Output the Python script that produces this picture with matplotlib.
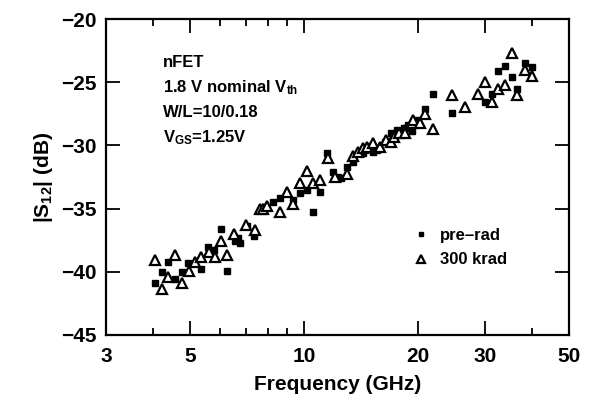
import matplotlib
matplotlib.use("Agg")
import matplotlib.pyplot as plt
from matplotlib.ticker import FixedLocator, FixedFormatter, NullFormatter

plt.rcParams['font.family'] = ['Liberation Sans', 'DejaVu Sans']
plt.rcParams['font.weight'] = 'bold'
plt.rcParams['mathtext.fontset'] = 'custom'
plt.rcParams['mathtext.rm'] = 'Liberation Sans:bold'
plt.rcParams['mathtext.it'] = 'Liberation Sans:bold'
plt.rcParams['mathtext.bf'] = 'Liberation Sans:bold'

# pre-rad (filled squares)
pre_freq = [4.37, 4.21, 4.04, 4.55, 4.75, 4.94, 5.34, 5.57, 5.78, 6.03,
            6.26, 6.56, 6.69, 6.77, 7.07, 7.37, 7.9, 8.28, 8.64, 9.35,
            9.75, 10.17, 10.55, 10.98, 11.5, 11.92, 12.24, 12.5, 12.97, 13.42,
            14.3, 15.15, 15.56, 16.3, 16.95, 17.6, 18.3, 18.5, 18.8, 19.3,
            19.85, 20.84, 21.8, 24.6, 30.0, 31.3, 32.5, 33.9, 35.3, 36.5,
            38.3, 39.9]
pre_s12 = [-39.2, -40.0, -40.9, -40.6, -40.0, -39.3, -39.8, -38.0, -38.3, -36.6,
           -39.9, -37.6, -37.3, -37.7, -36.4, -37.2, -34.9, -34.5, -34.2, -34.3,
           -33.8, -33.5, -35.3, -33.7, -30.6, -32.1, -32.5, -32.6, -31.7, -31.3,
           -30.6, -30.5, -30.4, -29.7, -29.0, -28.8, -28.6, -28.6, -28.4, -28.9,
           -28.0, -27.1, -25.9, -27.4, -26.6, -25.9, -24.1, -23.7, -24.6, -25.5,
           -23.5, -23.8]

# 300 krad (open triangles)
rad_freq = [4.04, 4.55, 4.37, 4.21, 4.75, 4.96, 5.15, 5.34, 5.6, 5.82,
            6.03, 6.26, 6.53, 7.0, 7.42, 7.65, 7.79, 7.98, 8.64, 9.01,
            9.35, 9.75, 10.17, 10.55, 10.98, 11.52, 12.06, 12.97, 13.42, 13.87,
            14.3, 14.65, 15.2, 15.8, 16.4, 16.95, 17.2, 17.8, 18.4, 19.3,
            19.4, 20.2, 20.84, 21.8, 24.6, 26.6, 28.7, 30.0, 31.3, 32.5,
            33.9, 35.3, 36.5, 38.3, 39.9]
rad_s12 = [-39.1, -38.7, -40.4, -41.4, -40.9, -39.9, -39.2, -38.8, -38.4, -38.8,
           -37.6, -38.7, -37.0, -36.3, -36.7, -35.0, -35.0, -34.8, -35.3, -33.7,
           -34.6, -33.0, -32.0, -33.0, -32.7, -31.0, -32.5, -32.3, -30.8, -30.5,
           -30.2, -30.1, -29.8, -30.1, -29.6, -29.7, -29.3, -29.0, -29.0, -28.2,
           -28.0, -28.2, -27.5, -28.7, -26.0, -27.0, -25.9, -25.0, -26.6, -25.5,
           -25.2, -22.7, -26.0, -24.0, -24.5]

x_major = [3, 5, 10, 20, 30, 50]
x_minor = [4, 6, 7, 8, 9, 40]
y_ticks = [-45, -40, -35, -30, -25, -20]

fig = plt.figure(figsize=(5.96, 4.09), dpi=100)
ax = fig.add_axes([0.178, 0.181, 0.777, 0.7725])

ax.plot(pre_freq, pre_s12, 's', color='black', markersize=4.5, label='pre\u2013rad')
ax.plot(rad_freq, rad_s12, '^', markerfacecolor='white', markeredgecolor='black',
        markeredgewidth=1.6, markersize=7, label='300 krad')

ax.set_xscale('log')
ax.set_xlim(3, 50)
ax.set_ylim(-45, -20)
ax.xaxis.set_major_locator(FixedLocator(x_major))
ax.xaxis.set_major_formatter(FixedFormatter([str(v) for v in x_major]))
ax.xaxis.set_minor_locator(FixedLocator(x_minor))
ax.xaxis.set_minor_formatter(NullFormatter())
ax.set_yticks(y_ticks)
ax.set_yticklabels(['\u2212%d' % abs(v) for v in y_ticks])

ax.tick_params(which='both', direction='in', top=True, right=True, width=1.3,
               labelsize=15)
ax.tick_params(axis='x', which='both', pad=9)
ax.tick_params(axis='y', which='both', pad=7)
ax.tick_params(which='major', length=10)
ax.tick_params(which='minor', length=5)
for s in ax.spines.values():
    s.set_linewidth(1.6)

ax.set_xlabel('Frequency (GHz)', fontsize=15, fontweight='bold', labelpad=6)
ax.set_ylabel('|S$_{12}$| (dB)', fontsize=15, fontweight='bold', labelpad=4)

notes = ['nFET', '1.8 V nominal V$_{\\mathrm{th}}$', 'W/L=10/0.18', 'V$_{\\mathrm{GS}}$=1.25V']
for i, t in enumerate(notes):
    ax.text(0.123, 0.861 - i * 0.079, t, transform=ax.transAxes, fontsize=12,
            fontweight='bold', ha='left', va='center')

ax.legend(loc='upper left', bbox_to_anchor=(0.63, 0.385), frameon=False,
          handlelength=1.0, handletextpad=0.6, markerscale=0.75,
          labelspacing=0.55, prop={'weight': 'bold', 'size': 12})

fig.savefig('out.png', dpi=100)
